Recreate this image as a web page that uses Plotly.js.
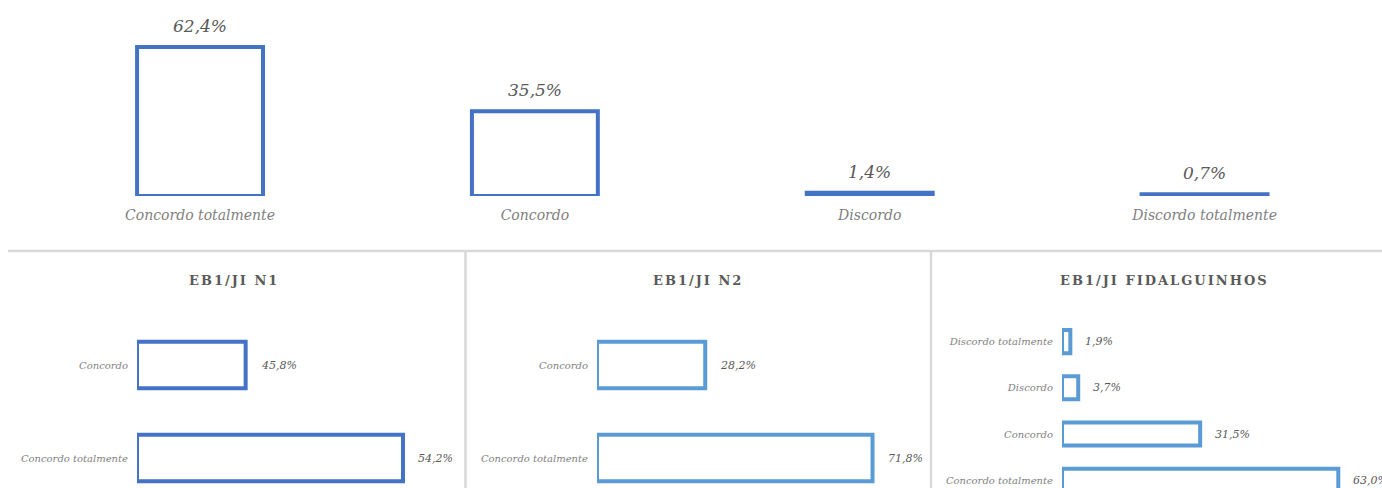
<!DOCTYPE html>
<html>
<head>
<meta charset="utf-8">
<script src="https://cdn.plot.ly/plotly-3.0.1.min.js"></script>
<style>html,body{margin:0;padding:0;background:#fff;overflow:hidden;}#chart{width:1382px;height:488px;}</style>
</head>
<body>
<div id="chart"></div>
<script>
// ---- data ----
const topCategories = ["Concordo totalmente", "Concordo", "Discordo", "Discordo totalmente"];
const topValues = [62.4, 35.5, 1.4, 0.7];

const panelTitles = ["EB1/JI N1", "EB1/JI N2", "EB1/JI FIDALGUINHOS"];
const n1Categories = ["Concordo", "Concordo totalmente"];
const n1Values = [45.8, 54.2];
const n2Categories = ["Concordo", "Concordo totalmente"];
const n2Values = [28.2, 71.8];
const fidCategories = ["Discordo totalmente", "Discordo", "Concordo", "Concordo totalmente"];
const fidValues = [1.9, 3.7, 31.5, 63.0];

// ---- layout helpers ----
const W = 1382, H = 488;
const px = x => x / W;
const py = y => 1 - y / H;
const FONT = "DejaVu Serif";
const fmt = v => v.toFixed(1).replace('.', ',') + '%';
const dark = '#595959', grey = '#7f7f7f';
const blue1 = '#4472C4', blue2 = '#5B9BD5';

// panel axis settings (axis minimum like the source chart)
const panels = [
  {cats: n1Categories, vals: n1Values, color: blue1, xmin: 40, xmax: 56.39, left: 137, title: panelTitles[0], tx: 234},
  {cats: n2Categories, vals: n2Values, color: blue2, xmin: 0, xmax: 80, left: 597, title: panelTitles[1], tx: 698},
  {cats: fidCategories, vals: fidValues, color: blue2, xmin: 0, xmax: 70, left: 1062, title: panelTitles[2], tx: 1164}
];

const traces = [{
  type: 'bar', x: topCategories, y: topValues, xaxis: 'x', yaxis: 'y',
  width: 0.376, marker: {color: '#ffffff', line: {color: blue1, width: 4}},
  hoverinfo: 'skip'
}];

const annotations = [];
topCategories.forEach((c, i) => {
  annotations.push({x: c, y: topValues[i], xref: 'x', yref: 'y', text: fmt(topValues[i]),
    showarrow: false, yanchor: 'bottom', yshift: 9,
    font: {family: FONT, size: 17, style: 'italic', color: dark}});
});

const layout = {
  width: W, height: H, margin: {l: 0, r: 0, t: 0, b: 0},
  paper_bgcolor: '#fff', plot_bgcolor: 'rgba(0,0,0,0)', showlegend: false,
  font: {family: FONT},
  xaxis: {domain: [px(32.6), px(1372)], type: 'category', anchor: 'y', showgrid: false, zeroline: false,
    showline: false, ticks: '', ticklabelstandoff: 9,
    tickfont: {family: FONT, size: 14, style: 'italic', color: grey}},
  yaxis: {domain: [py(196), py(20)], range: [0, 73.7], visible: false, anchor: 'x'},
  shapes: [
    {type: 'line', xref: 'paper', yref: 'paper', x0: px(8), x1: 1, y0: py(251), y1: py(251), line: {color: '#d9d9d9', width: 2.5}},
    {type: 'line', xref: 'paper', yref: 'paper', x0: px(465.5), x1: px(465.5), y0: py(251), y1: 0, line: {color: '#d9d9d9', width: 2.5}},
    {type: 'line', xref: 'paper', yref: 'paper', x0: px(931), x1: px(931), y0: py(251), y1: 0, line: {color: '#d9d9d9', width: 2.5}}
  ],
  annotations: annotations
};

const plotWidth = 307;
const topPx = 318.5;
panels.forEach((p, k) => {
  const n = k + 2;
  const xa = 'x' + n, ya = 'y' + n;
  traces.push({
    type: 'bar', orientation: 'h', y: p.cats, x: p.vals.map(v => v - p.xmin), base: p.xmin,
    xaxis: xa, yaxis: ya, width: 0.5,
    marker: {color: '#ffffff', line: {color: p.color, width: 4}}, hoverinfo: 'skip'
  });
  const nc = p.cats.length;
  const step = nc === 2 ? 93 : 46.2;
  const bottomIdx = -0.5 + (H - topPx) / step;
  layout['xaxis' + n] = {domain: [px(p.left), px(p.left + plotWidth)], range: [p.xmin, p.xmax], anchor: ya,
    visible: false, showgrid: false, zeroline: false};
  layout['yaxis' + n] = {domain: [0, py(topPx)], type: 'category', range: [bottomIdx, -0.5], anchor: xa,
    showgrid: false, zeroline: false, showline: false, ticks: '', ticklabelstandoff: 8,
    tickfont: {family: FONT, size: 10, style: 'italic', color: grey}};
  p.cats.forEach((c, i) => {
    annotations.push({x: p.vals[i], y: c, xref: xa, yref: ya, text: fmt(p.vals[i]), showarrow: false,
      xanchor: 'left', xshift: 13, font: {family: FONT, size: 11, style: 'italic', color: dark}});
  });
  annotations.push({x: px(p.tx), y: py(280), xref: 'paper', yref: 'paper', text: '<b>' + p.title + '</b>',
    showarrow: false, xanchor: 'center', yanchor: 'middle',
    font: {family: FONT, size: 13, color: dark}});
});

const gd = document.getElementById('chart');
function spaceTitles() {
  gd.querySelectorAll('.annotation-text').forEach(t => {
    if (panelTitles.indexOf(t.textContent) >= 0) {
      t.style.letterSpacing = '2px';
    }
  });
}
Plotly.newPlot(gd, traces, layout, {displayModeBar: false, staticPlot: true}).then(spaceTitles);
gd.on && gd.on('plotly_afterplot', spaceTitles);
</script>
</body>
</html>
